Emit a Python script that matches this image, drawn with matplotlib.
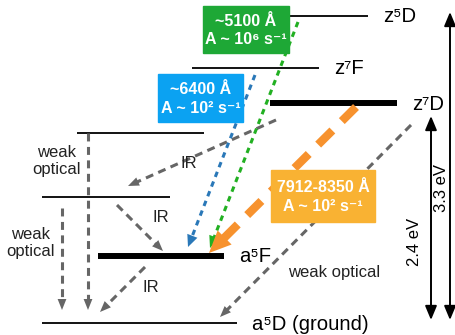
import numpy as np
import matplotlib
matplotlib.use('Agg')
import matplotlib.pyplot as plt
from matplotlib.patches import Rectangle

plt.rcParams['font.family'] = ['Liberation Sans', 'DejaVu Sans']

# energy levels (drawing units = pixels, y grows downward)
level_names = ['z⁵D', 'z⁷F', 'z⁷D', '', '', 'a⁵F', 'a⁵D (ground)']
level_x0 = [289, 192, 270, 77, 42, 98, 42]
level_x1 = [368, 319, 397, 204, 170, 224, 237]
level_y = [16, 68, 103, 133, 197, 256, 323]
level_thick = [False, False, True, False, False, True, False]

# grey dashed decays: start x, start y, end x, end y
grey_x0 = [88, 62, 276, 117, 145, 411]
grey_y0 = [133, 208, 120, 205, 267, 125]
grey_x1 = [88, 62, 128, 163, 100, 220]
grey_y1 = [310, 310, 186, 251, 312, 317]

grey_labels = ['weak\noptical', 'weak\noptical', 'IR', 'IR', 'IR', 'weak optical']
grey_label_x = [57, 31, 189, 161, 151, 334]
grey_label_y = [161, 243, 163, 218, 287, 273]

# coloured lines to a5F
col_names = ['~5100 Å\nA ~ 10⁶ s⁻¹', '~6400 Å\nA ~ 10² s⁻¹', '7912-8350 Å\nA ~ 10² s⁻¹']
col_x0 = [298, 255, 356]
col_y0 = [22, 75, 107]
col_x1 = [210, 188, 209]
col_y1 = [248, 247, 253]
line_colors = ['#22b022', '#2a78b8', '#f7922e']
box_colors = ['#1ea836', '#0ba2f2', '#f9b233']
box_x = [203, 158, 271]
box_y = [6, 74, 170]
box_w = [86, 85, 104]
box_h = [47, 48, 52]

# energy spans on the right
span_labels = ['3.3 eV', '2.4 eV']
span_x = [450, 431]
span_top = [12, 116]
span_bottom = [320, 320]
span_label_x = [442, 415]
span_label_y = [188, 242]

fig = plt.figure(figsize=(4.56, 3.35), dpi=100)
ax = fig.add_axes([0, 0, 1, 1])
ax.set_xlim(0, 456)
ax.set_ylim(335, 0)
ax.axis('off')


def dashed_arrow(x0, y0, x1, y1, color, lw, dashes, head, hw):
    dx, dy = x1 - x0, y1 - y0
    d = np.hypot(dx, dy)
    ux, uy = dx / d, dy / d
    ax.plot([x0, x1 - ux * head * 0.8], [y0, y1 - uy * head * 0.8],
            color=color, lw=lw, dashes=dashes, solid_capstyle='butt', dash_capstyle='butt')
    ax.annotate('', xy=(x1, y1), xytext=(x1 - ux * head, y1 - uy * head),
                arrowprops=dict(arrowstyle='-|>,head_length=%g,head_width=%g' % (1.0, hw),
                                color=color, lw=0, mutation_scale=head * 0.72,
                                shrinkA=0, shrinkB=0))


for name, x0, x1, y, thick in zip(level_names, level_x0, level_x1, level_y, level_thick):
    ax.plot([x0, x1], [y, y], color='black', lw=4.3 if thick else 1.3, solid_capstyle='butt')
    if name:
        ax.text(x1 + 15, y + 1, name, fontsize=14.6, va='center', ha='left')

for x0, y0, x1, y1 in zip(grey_x0, grey_y0, grey_x1, grey_y1):
    dashed_arrow(x0, y0, x1, y1, '#666666', 2.2, (2.6, 1.8), 11, 0.4)

for t, x, y in zip(grey_labels, grey_label_x, grey_label_y):
    ax.text(x, y, t, fontsize=12, ha='center', va='center', linespacing=1.2, color='#222222')

for i in range(3):
    if i < 2:
        dashed_arrow(col_x0[i], col_y0[i], col_x1[i], col_y1[i], line_colors[i], 2.2, (1.8, 1.6), 12, 0.45)
    else:
        dashed_arrow(col_x0[i], col_y0[i], col_x1[i], col_y1[i], line_colors[i], 6, (2.4, 1.6), 22, 0.45)
    ax.add_patch(Rectangle((box_x[i], box_y[i]), box_w[i], box_h[i], color=box_colors[i], zorder=3))
    ax.text(box_x[i] + box_w[i] / 2, box_y[i] + box_h[i] / 2 + 1, col_names[i], color='white',
            fontsize=11.5, fontweight='bold', ha='center', va='center', linespacing=1.3, zorder=4)

for t, x, top, bot, lx, ly in zip(span_labels, span_x, span_top, span_bottom, span_label_x, span_label_y):
    ax.annotate('', xy=(x, top), xytext=(x, bot),
                arrowprops=dict(arrowstyle='<|-|>,head_length=0.6,head_width=0.25', color='black',
                                lw=1.4, mutation_scale=14, shrinkA=0, shrinkB=0))
    ax.text(lx, ly, t, fontsize=12, rotation=90, ha='center', va='center')

fig.savefig('out.png', dpi=100)
